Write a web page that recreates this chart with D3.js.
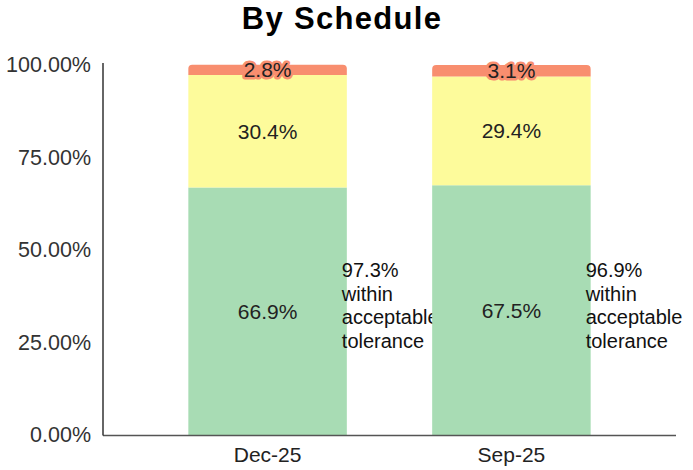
<!DOCTYPE html>
<html><head><meta charset="utf-8">
<script src="https://cdn.jsdelivr.net/npm/d3@7"></script>
<style>
body{margin:0;background:#fff;}
text{font-family:"Liberation Sans",Arial,sans-serif;}
</style></head>
<body><svg id="c" width="693" height="470"></svg>
<script>
const categories = ["Dec-25", "Sep-25"];
const greenValues = [66.9, 67.5];
const yellowValues = [30.4, 29.4];
const redValues = [2.8, 3.1];
const withinLabels = ["97.3%", "96.9%"];
const yTicks = [0, 25, 50, 75, 100];
const title = "By Schedule";
const colors = {green:"#a8dcb4", yellow:"#fdfb9b", red:"#f88e6f"};

const svg = d3.select("#c");
const x = d3.scaleBand().domain(categories).range([103, 676]).paddingInner(0.35).paddingOuter(0.35);
const y = d3.scaleLinear().domain([0, 100]).range([435, 65]);

svg.append("text").attr("x", 342).attr("y", 29).attr("text-anchor","middle")
  .attr("font-size", 31).attr("font-weight","bold").attr("letter-spacing", 1.3).attr("fill","#000").text(title);

const series = [
  {key:"green", vals:greenValues},
  {key:"yellow", vals:yellowValues},
  {key:"red", vals:redValues}
];

categories.forEach((c, i) => {
  let base = 0;
  series.forEach((s, si) => {
    const v = s.vals[i];
    const y0 = y(base), y1 = y(base + v);
    const x0 = x(c), w = x.bandwidth();
    if (si === series.length - 1) {
      const r = 4;
      const p = `M${x0},${y0}V${y1 + r}Q${x0},${y1} ${x0 + r},${y1}H${x0 + w - r}Q${x0 + w},${y1} ${x0 + w},${y1 + r}V${y0}Z`;
      svg.append("path").attr("d", p).attr("fill", colors[s.key]);
    } else {
      svg.append("rect").attr("x", x0).attr("y", y1).attr("width", w).attr("height", y0 - y1).attr("fill", colors[s.key]);
    }
    const t = svg.append("text").attr("x", x0 + w/2).attr("y", (y0 + y1)/2).attr("dy","0.36em")
      .attr("text-anchor","middle").attr("font-size", 21).attr("fill","#222").text(v.toFixed(1) + "%");
    if (s.key === "red") {
      t.attr("stroke", colors.red).attr("stroke-width", 5).attr("stroke-linejoin","round").attr("paint-order","stroke");
    }
    base += v;
  });
  const tx = x(c) + x.bandwidth() - 5;
  const lines = [withinLabels[i], "within", "acceptable", "tolerance"];
  const tt = svg.append("text").attr("x", tx).attr("font-size", 20).attr("fill","#111");
  lines.forEach((l, k) => tt.append("tspan").attr("x", tx).attr("y", 277 + k*23.5).text(l));
});

// y axis
const yAxis = d3.axisLeft(y).tickValues(yTicks).tickSize(0).tickPadding(12).tickFormat(d => d.toFixed(2) + "%");
const ga = svg.append("g").attr("transform","translate(103,0)").call(yAxis);
ga.select(".domain").attr("stroke","#333").attr("stroke-width",1.5).attr("d","M0,63V435.5");
ga.selectAll("text").attr("font-size", 21.5).attr("fill","#333").attr("font-family","Liberation Sans, Arial, sans-serif");

// x axis
const xAxis = d3.axisBottom(x).tickSize(0).tickPadding(12);
const gx = svg.append("g").attr("transform","translate(0,435.5)").call(xAxis);
gx.select(".domain").attr("stroke","#555").attr("stroke-width",1.5).attr("d","M103,0H676");
gx.selectAll("text").attr("font-size", 21).attr("fill","#222").attr("font-family","Liberation Sans, Arial, sans-serif");
svg.node().appendChild(ga.node());
</script></body></html>
